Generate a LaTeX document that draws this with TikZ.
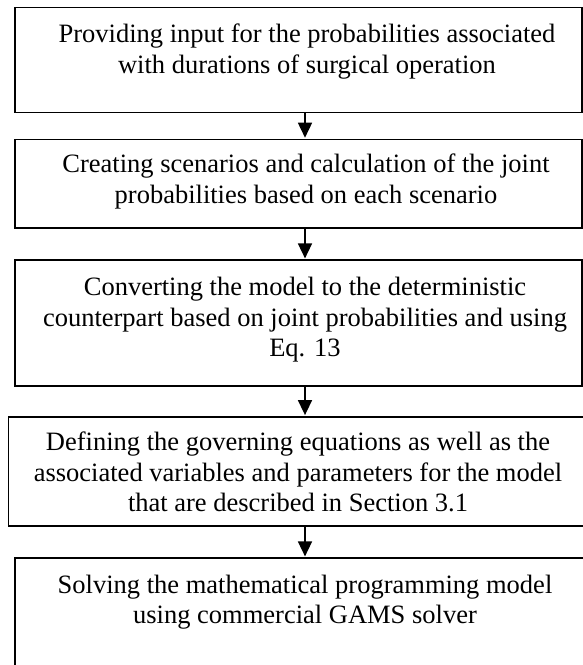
\documentclass[tikz,border=0pt]{standalone}
\usepackage{fontspec}
\setmainfont{Liberation Serif}
\usetikzlibrary{arrows.meta}
\begin{document}
\begin{tikzpicture}[x=1pt,y=-1pt,
  stepbox/.style={draw=black, line width=1.6pt, rectangle, inner sep=0pt, fill=none},
  steptext/.style={align=center, inner sep=0pt, anchor=base,
    font=\fontsize{26.5pt}{30.5pt}\selectfont},
  flow/.style={line width=1.6pt, -{Triangle[length=15pt,width=14pt]}, shorten >=0.8pt}]
\useasboundingbox (0,0) rectangle (583,665);

% process boxes
\node[stepbox, minimum width=567pt, minimum height=105pt]   (b1) at (298.5,59.8) {};
\node[stepbox, minimum width=567pt, minimum height=88.4pt]  (b2) at (298.5,183.5) {};
\node[stepbox, minimum width=567pt, minimum height=125.7pt] (b3) at (298.5,322.85) {};
\node[stepbox, minimum width=583.7pt, minimum height=109.3pt] (b4) at (300.15,471.35) {};
\node[stepbox, minimum width=577pt, minimum height=122pt]   (b5) at (303.5,619) {};

% box texts (anchored at the baseline of the last line)
\node[steptext] (t1) at (307,73) {Providing input for the probabilities associated\\with durations of surgical operation};
\node[steptext] (t2) at (306,203) {Creating scenarios and calculation of the joint\\probabilities based on each scenario};
\node[steptext] (t3) at (305,356.5) {Converting the model to the deterministic\\counterpart based on joint probabilities and using\\Eq. 13};
\node[steptext] (t4) at (298,511.5) {Defining the governing equations as well as the\\associated variables and parameters for the model\\that are described in Section 3.1};
\node[steptext] (t5) at (305,623.5) {Solving the mathematical programming model\\using commercial GAMS solver};

% connectors
\coordinate (ax) at (305,0);
\draw[flow] (b1.south -| ax) -- (b2.north -| ax);
\draw[flow] (b2.south -| ax) -- (b3.north -| ax);
\draw[flow] (b3.south -| ax) -- (b4.north -| ax);
\draw[flow] (b4.south -| ax) -- (b5.north -| ax);
\end{tikzpicture}
\end{document}
